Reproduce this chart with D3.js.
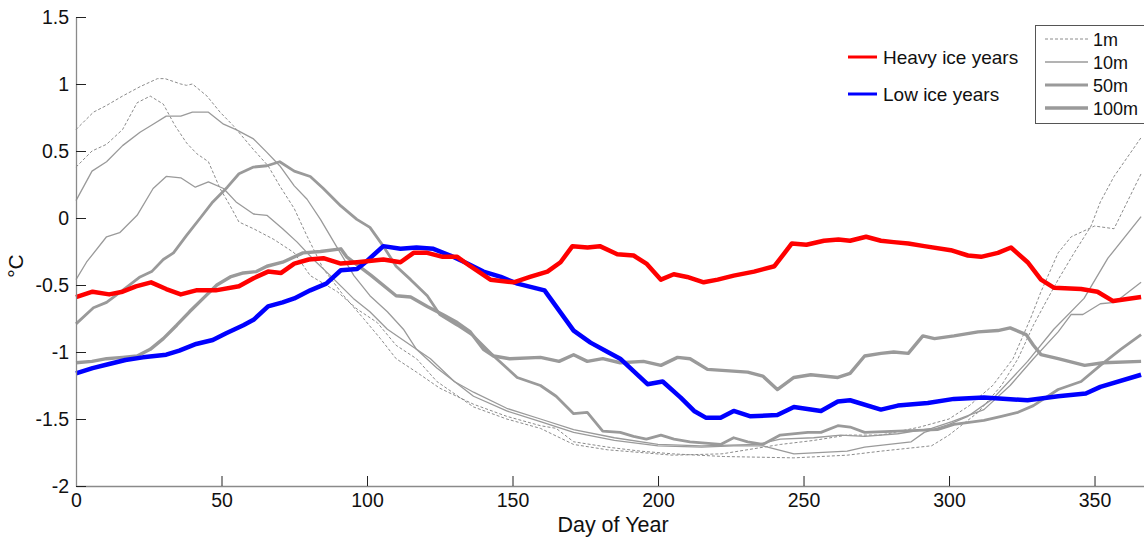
<!DOCTYPE html>
<html>
<head>
<meta charset="utf-8">
<script src="https://cdn.jsdelivr.net/npm/d3@7"></script>
<style>
  body { margin: 0; background: #fff; }
  svg { display: block; font-family: Arial, "Liberation Sans", sans-serif; }
</style>
</head>
<body>
<script>
// Daily temperature, [day of year, degC]
const heavyIce = [[0,-0.59],[5.7,-0.55],[11.4,-0.57],[16,-0.55],[20.6,-0.51],[25.8,-0.48],[31,-0.53],[36,-0.57],[41.3,-0.54],[48,-0.54],[56,-0.51],[61,-0.45],[66,-0.4],[70.5,-0.41],[75,-0.34],[80,-0.31],[85,-0.3],[91,-0.34],[96.6,-0.33],[105.6,-0.31],[111.5,-0.33],[116,-0.26],[120.7,-0.26],[126,-0.29],[131,-0.29],[135.5,-0.36],[142.4,-0.46],[150.4,-0.48],[156,-0.44],[162,-0.4],[166.5,-0.33],[170.6,-0.21],[175.8,-0.22],[180,-0.21],[186,-0.27],[191.6,-0.28],[196,-0.34],[201,-0.46],[205.4,-0.42],[210,-0.44],[215.7,-0.48],[220.5,-0.46],[226,-0.43],[233,-0.4],[240,-0.36],[246,-0.19],[251,-0.2],[257,-0.17],[262,-0.16],[266,-0.17],[271.5,-0.14],[276.6,-0.17],[281,-0.18],[286,-0.19],[291.5,-0.21],[300.6,-0.24],[306.5,-0.28],[311,-0.29],[316.8,-0.26],[321.3,-0.22],[327,-0.33],[331.6,-0.46],[336,-0.52],[345.4,-0.53],[351,-0.55],[356.4,-0.62],[366,-0.59]];

const lowIce = [[0,-1.16],[5.7,-1.12],[11.4,-1.09],[17,-1.06],[23,-1.04],[31,-1.02],[35.5,-0.99],[41.3,-0.94],[47,-0.91],[51.6,-0.86],[57.5,-0.8],[61,-0.76],[66,-0.66],[71,-0.63],[75,-0.6],[80.5,-0.54],[86,-0.49],[91,-0.39],[96.6,-0.38],[100,-0.32],[105.6,-0.21],[111.5,-0.23],[117,-0.22],[122.8,-0.23],[128.6,-0.28],[134.5,-0.34],[140,-0.4],[146,-0.44],[151.7,-0.49],[161,-0.54],[171,-0.84],[176.8,-0.93],[182.7,-1.0],[187,-1.05],[196.4,-1.24],[201.6,-1.22],[207.8,-1.34],[212.4,-1.44],[216.4,-1.49],[221.5,-1.49],[226,-1.44],[231.8,-1.48],[241,-1.47],[246.7,-1.41],[256,-1.44],[261.8,-1.37],[266,-1.36],[276.6,-1.43],[282.4,-1.4],[292.7,-1.38],[301.7,-1.35],[312,-1.34],[327,-1.36],[337.5,-1.33],[347,-1.31],[352,-1.26],[366,-1.17]];

const depth1mA = [[0,0.66],[6,0.79],[10.5,0.84],[16,0.91],[22,0.98],[28,1.04],[30.6,1.04],[36,1.0],[38,0.99],[40,1.0],[45,0.91],[49.5,0.79],[54,0.69],[61,0.51],[66,0.39],[70,0.24],[75,0.07],[79.5,-0.14],[85,-0.38],[92,-0.58],[98.8,-0.75],[104.6,-0.9],[110,-1.05],[117,-1.15],[125,-1.27],[136.6,-1.39],[148,-1.48],[159.6,-1.55],[165,-1.57],[171,-1.67],[182.7,-1.71],[194,-1.74],[205,-1.76],[222.6,-1.78],[246.7,-1.79],[265,-1.77],[276.6,-1.74],[294,-1.7],[300,-1.62],[310,-1.45],[318,-1.25],[323.7,-1.05],[329,-0.8],[332.7,-0.65],[337.5,-0.46],[343,-0.26],[348.8,-0.06],[352,0.12],[356.7,0.31],[366,0.6]];

const depth1mB = [[0,0.38],[5.5,0.5],[10.5,0.55],[16,0.66],[21,0.86],[25.5,0.91],[30,0.85],[34,0.69],[38,0.56],[41.5,0.48],[45.5,0.42],[49.5,0.22],[53,0.09],[56,-0.03],[61,-0.08],[68,-0.16],[75,-0.26],[80.5,-0.43],[89.8,-0.55],[96.6,-0.68],[103.5,-0.78],[110,-0.95],[117,-1.05],[124,-1.22],[136.6,-1.41],[148,-1.5],[159.6,-1.57],[171,-1.69],[182.7,-1.73],[194,-1.75],[205,-1.77],[222,-1.76],[242,-1.69],[253.5,-1.66],[265,-1.62],[276.6,-1.62],[290,-1.56],[300,-1.5],[307,-1.4],[315,-1.25],[322,-1.05],[328,-0.75],[331.6,-0.55],[337.5,-0.26],[342,-0.14],[350,-0.06],[356.7,-0.08],[366,0.33]];

const depth10mA = [[0,0.13],[5.5,0.35],[10.5,0.42],[16,0.54],[22,0.64],[26.5,0.7],[31,0.76],[36,0.76],[40,0.79],[45.5,0.79],[50.7,0.7],[55,0.66],[61,0.59],[65.6,0.49],[70,0.39],[75,0.24],[79.4,0.14],[84,-0.01],[90,-0.23],[95.5,-0.43],[101,-0.58],[107,-0.7],[112.5,-0.83],[117,-0.98],[124,-1.12],[136.6,-1.33],[148,-1.44],[159.6,-1.52],[171,-1.6],[185,-1.66],[200,-1.7],[215,-1.71],[226,-1.7],[236,-1.7],[246.7,-1.76],[265,-1.74],[271,-1.71],[287,-1.67],[291.5,-1.6],[300,-1.54],[306.5,-1.48],[315,-1.35],[327,-1.07],[336,-0.83],[346.4,-0.6],[354.6,-0.3],[366,0.01]];

const depth10mB = [[0,-0.46],[3.6,-0.33],[10.5,-0.14],[15,-0.11],[21,0.02],[26.5,0.22],[31,0.31],[36,0.3],[41,0.23],[45.5,0.27],[50.7,0.22],[55,0.12],[61,0.03],[65.6,0.02],[71,-0.08],[76,-0.18],[81.6,-0.31],[87.4,-0.43],[95.3,-0.6],[101,-0.7],[107,-0.83],[115,-0.95],[121.8,-1.05],[130,-1.22],[136.6,-1.3],[148,-1.42],[159.6,-1.5],[171,-1.58],[185,-1.64],[200,-1.69],[215,-1.7],[234,-1.69],[242,-1.65],[253.5,-1.64],[262.8,-1.62],[271,-1.63],[282.4,-1.61],[294,-1.57],[301,-1.52],[312,-1.43],[321,-1.25],[329,-1.05],[337.5,-0.85],[342,-0.72],[346,-0.72],[352,-0.64],[357,-0.63],[366,-0.48]];

const depth50m = [[0,-0.79],[6,-0.67],[10.5,-0.63],[16,-0.54],[22,-0.44],[26,-0.4],[30,-0.31],[33.5,-0.26],[38,-0.13],[42.7,0.0],[47,0.12],[52,0.23],[56,0.33],[61,0.38],[65.6,0.39],[70,0.42],[75,0.35],[80.5,0.31],[85,0.22],[91,0.09],[96.5,-0.01],[101,-0.07],[105.6,-0.21],[110,-0.36],[115,-0.46],[120.7,-0.58],[125,-0.72],[131,-0.8],[136.6,-0.88],[143.5,-1.03],[151.6,-1.19],[159.6,-1.25],[165,-1.33],[171,-1.46],[175.7,-1.45],[181,-1.59],[187,-1.6],[191.6,-1.63],[196,-1.65],[201,-1.62],[205.5,-1.65],[211,-1.67],[221.5,-1.69],[226,-1.64],[230.8,-1.67],[236,-1.69],[242,-1.62],[251.5,-1.6],[256,-1.6],[261.8,-1.55],[266,-1.56],[271,-1.6],[282.4,-1.59],[296,-1.58],[301.7,-1.54],[312,-1.51],[318,-1.48],[323.7,-1.45],[329,-1.4],[337.5,-1.28],[345.4,-1.22],[352,-1.1],[359,-0.98],[366,-0.87]];

const depth100m = [[0,-1.08],[5.5,-1.07],[10.5,-1.05],[16,-1.04],[21,-1.03],[25.5,-0.98],[30,-0.9],[34.6,-0.8],[39,-0.7],[43.7,-0.6],[48.4,-0.5],[53,-0.44],[57.5,-0.41],[62,-0.4],[65.6,-0.36],[71,-0.33],[78,-0.26],[84,-0.25],[91,-0.23],[93,-0.29],[101.5,-0.43],[110,-0.58],[115,-0.59],[120.7,-0.66],[126,-0.72],[131,-0.78],[135.5,-0.85],[140,-0.98],[143.5,-1.03],[149,-1.05],[159.6,-1.04],[166,-1.07],[171,-1.02],[175.7,-1.07],[181,-1.05],[187,-1.08],[195,-1.07],[201,-1.1],[206.7,-1.04],[211,-1.05],[217,-1.13],[230.8,-1.15],[236,-1.18],[241,-1.28],[246.7,-1.19],[252.5,-1.17],[261.8,-1.19],[266,-1.16],[271,-1.03],[276.6,-1.01],[281,-1.0],[286,-1.01],[291,-0.88],[295,-0.9],[301.7,-0.88],[310,-0.85],[316.8,-0.84],[321,-0.82],[326.5,-0.87],[329,-0.95],[331.6,-1.02],[337.5,-1.05],[346.6,-1.1],[353,-1.08],[366,-1.07]];

const xTicks = [0, 50, 100, 150, 200, 250, 300, 350];
const yTicks = [-2, -1.5, -1, -0.5, 0, 0.5, 1, 1.5];
const iceLabels = ["Heavy ice years", "Low ice years"];
const depthLabels = ["1m", "10m", "50m", "100m"];

// line styles
const grey = '#9a9a9a';
const depthStyle = {
  "1m": { width: 1, dash: "3,2", color: '#8c8c8c' },
  "10m": { width: 1.3, dash: null, color: grey },
  "50m": { width: 2.8, dash: null, color: grey },
  "100m": { width: 3.4, dash: null, color: grey }
};

const width = 1144, height = 538;
const margin = { left: 76, right: 0, top: 17, bottom: 52 };

const x = d3.scaleLinear().domain([0, 367]).range([margin.left, width - margin.right]);
const y = d3.scaleLinear().domain([-2, 1.5]).range([height - margin.bottom, margin.top]);

const svg = d3.select("body").append("svg")
  .attr("width", width)
  .attr("height", height);

const line = d3.line()
  .x(d => x(d[0]))
  .y(d => y(d[1]));

const greySeries = [
  { depth: "1m", data: depth1mA },
  { depth: "1m", data: depth1mB },
  { depth: "10m", data: depth10mA },
  { depth: "10m", data: depth10mB },
  { depth: "50m", data: depth50m },
  { depth: "100m", data: depth100m }
];

svg.append("g")
  .attr("fill", "none")
  .attr("stroke-linejoin", "round")
  .selectAll("path")
  .data(greySeries)
  .join("path")
  .attr("stroke", d => depthStyle[d.depth].color)
  .attr("stroke-width", d => depthStyle[d.depth].width)
  .attr("stroke-dasharray", d => depthStyle[d.depth].dash)
  .attr("d", d => line(d.data));

// ice years on top
svg.append("g")
  .attr("fill", "none")
  .attr("stroke-width", 4.5)
  .attr("stroke-linejoin", "round")
  .selectAll("path")
  .data([{ c: '#0000ff', data: lowIce }, { c: '#ff0000', data: heavyIce }])
  .join("path")
  .attr("stroke", d => d.c)
  .attr("d", d => line(d.data));

// axes
const xAxis = svg.append("g")
  .attr("transform", `translate(0,${y(-2)})`)
  .call(d3.axisBottom(x).tickValues(xTicks).tickSizeInner(-10).tickSizeOuter(0).tickPadding(7).tickFormat(d => String(d)));

const yAxis = svg.append("g")
  .attr("transform", `translate(${x(0)},0)`)
  .call(d3.axisLeft(y).tickValues(yTicks).tickSizeInner(-10).tickSizeOuter(0).tickPadding(7).tickFormat(d => String(d)));

[xAxis, yAxis].forEach(a => {
  a.select(".domain").attr("stroke", '#8a8a8a').attr("stroke-width", 1.3);
  a.selectAll(".tick line").attr("stroke", '#222');
  a.selectAll(".tick text")
    .attr("fill", '#111')
    .style("font-size", "19.5px")
    .style("font-family", 'Arial, "Liberation Sans", sans-serif');
});

svg.append("text")
  .attr("x", (x(0) + x(367)) / 2 + 3)
  .attr("y", 532)
  .attr("text-anchor", "middle")
  .attr("fill", '#111')
  .style("font-size", "21.5px")
  .text("Day of Year");

svg.append("text")
  .attr("transform", `translate(23,266) rotate(-90)`)
  .attr("text-anchor", "middle")
  .attr("fill", '#111')
  .style("font-size", "21px")
  .text("\u00B0C");

// ice legend (no frame)
const iceLeg = svg.append("g");
iceLabels.forEach((lab, i) => {
  const yy = 57 + i * 37;
  iceLeg.append("line")
    .attr("x1", 848).attr("x2", 877)
    .attr("y1", yy).attr("y2", yy)
    .attr("stroke", i === 0 ? '#ff0000' : '#0000ff')
    .attr("stroke-width", 3);
  iceLeg.append("text")
    .attr("x", 883).attr("y", yy + 7)
    .attr("fill", '#111')
    .style("font-size", "19px")
    .text(lab);
});

// depth legend (framed)
const depLeg = svg.append("g");
depLeg.append("rect")
  .attr("x", 1035.5).attr("y", 25.5)
  .attr("width", 130).attr("height", 98)
  .attr("fill", "#fff")
  .attr("stroke", '#555')
  .attr("stroke-width", 1);
depthLabels.forEach((lab, i) => {
  const yy = 39 + i * 23;
  const st = depthStyle[lab];
  depLeg.append("line")
    .attr("x1", 1045).attr("x2", 1088)
    .attr("y1", yy).attr("y2", yy)
    .attr("stroke", st.color)
    .attr("stroke-width", st.width)
    .attr("stroke-dasharray", st.dash);
  depLeg.append("text")
    .attr("x", 1093).attr("y", yy + 6.5)
    .attr("fill", '#111')
    .style("font-size", "18px")
    .text(lab);
});
</script>
</body>
</html>
